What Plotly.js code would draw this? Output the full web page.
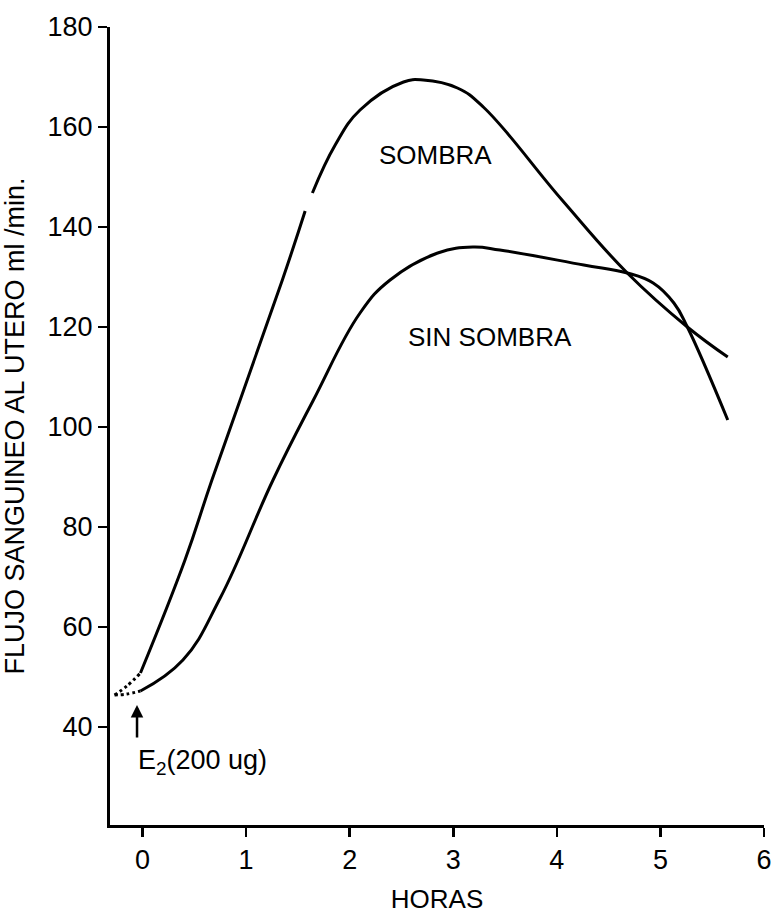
<!DOCTYPE html>
<html>
<head>
<meta charset="utf-8">
<script src="https://cdn.plot.ly/plotly-3.0.1.min.js"></script>
<style>html,body{margin:0;padding:0;background:#fff;}</style>
</head>
<body>
<div id="chart" style="width:773px;height:914px;"></div>
<script>
// Data (hours vs ml/min)
const sombraX = [-0.02, 0.41, 0.67, 1.35, 1.57, null, 1.64, 1.86, 2.10, 2.52, 2.71, 3.04, 3.29, 4.05, 4.68, 5.26, 5.65];
const sombraY = [50.8, 73.4, 89.4, 129.4, 143.2, null, 146.8, 156.4, 163.4, 169.0, 169.4, 167.8, 164.0, 145.4, 130.8, 120.0, 114.0];

const sinX = [-0.02, 0.39, 0.75, 1.26, 1.65, 2.10, 2.39, 2.85, 3.19, 3.45, 4.26, 4.68, 4.93, 5.13, 5.26, 5.65];
const sinY = [47.2, 53.4, 65.8, 89.4, 105.4, 122.8, 129.4, 134.8, 136.0, 135.4, 132.4, 130.8, 128.8, 124.8, 120.0, 101.4];

const preSombraX = [-0.27, -0.15, -0.02];
const preSombraY = [46.4, 48.2, 50.8];
const preSinX = [-0.27, -0.15, -0.02];
const preSinY = [46.4, 46.6, 47.2];

const xTicks = [0, 1, 2, 3, 4, 5, 6];
const xTickText = ['0', '1', '2', '3', '4', '5', '6'];
const yTicks = [40, 60, 80, 100, 120, 140, 160, 180];
const yTickText = ['40', '60', '80', '100', '120', '140', '160', '180'];

const FONT = '"Liberation Sans", Arial, Helvetica, sans-serif';
const line = {color: '#000', width: 3, shape: 'spline', smoothing: 1.2};
const dotted = {color: '#000', width: 3, dash: 'dot', shape: 'spline'};

const traces = [
  {x: sombraX, y: sombraY, mode: 'lines', line: line, connectgaps: false, name: 'SOMBRA', hoverinfo: 'skip'},
  {x: sinX, y: sinY, mode: 'lines', line: line, name: 'SIN SOMBRA', hoverinfo: 'skip'},
  {x: preSombraX, y: preSombraY, mode: 'lines', line: dotted, hoverinfo: 'skip'},
  {x: preSinX, y: preSinY, mode: 'lines', line: dotted, hoverinfo: 'skip'}
];

const layout = {
  width: 773, height: 914,
  margin: {l: 110, r: 9, t: 27, b: 89},
  paper_bgcolor: '#fff', plot_bgcolor: '#fff',
  showlegend: false,
  font: {family: FONT, color: '#000', size: 26},
  xaxis: {
    range: [-0.314, 6], showgrid: false, zeroline: false,
    showline: true, linecolor: '#000', linewidth: 2.5,
    ticks: 'outside', ticklen: 9, tickwidth: 2.5, tickcolor: '#000',
    tickvals: xTicks, ticktext: xTickText,
    tickfont: {family: FONT, size: 27, color: '#000'},
    title: {text: 'HORAS', font: {family: FONT, size: 26, color: '#000'}, standoff: 26}
  },
  yaxis: {
    range: [20.4, 180], showgrid: false, zeroline: false,
    showline: true, linecolor: '#000', linewidth: 3,
    ticks: 'outside', ticklen: 9, tickwidth: 2.5, tickcolor: '#000',
    tickvals: yTicks, ticktext: yTickText,
    tickfont: {family: FONT, size: 27, color: '#000'},
    title: {text: 'FLUJO SANGUINEO AL UTERO ml /min.', font: {family: FONT, size: 27, color: '#000'}, standoff: 26}
  },
  annotations: [
    {x: 2.826, y: 154.4, xref: 'x', yref: 'y', text: 'SOMBRA', showarrow: false, font: {family: FONT, size: 26, color: '#000'}},
    {x: 3.35, y: 118, xref: 'x', yref: 'y', text: 'SIN SOMBRA', showarrow: false, font: {family: FONT, size: 26, color: '#000'}},
    {x: -0.053, y: 44.4, xref: 'x', yref: 'y', text: '', showarrow: true, ax: 0, ay: 34, arrowhead: 2, arrowsize: 1, arrowwidth: 2.5, arrowcolor: '#000'},
    {x: 0.575, y: 33, xref: 'x', yref: 'y', text: 'E<sub>2</sub>(200 ug)', showarrow: false, font: {family: FONT, size: 27, color: '#000'}}
  ]
};

Plotly.newPlot('chart', traces, layout, {staticPlot: true, displayModeBar: false});
</script>
</body>
</html>
